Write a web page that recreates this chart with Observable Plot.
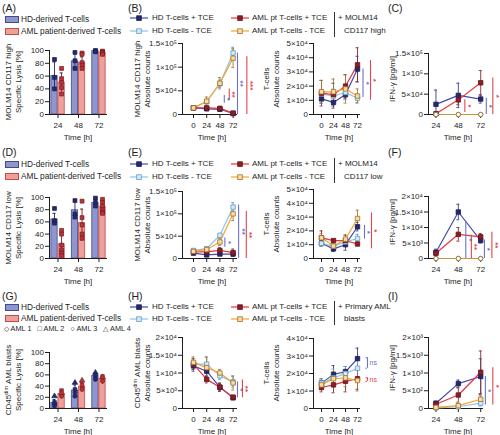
<!DOCTYPE html>
<html><head><meta charset="utf-8">
<script src="https://cdn.jsdelivr.net/npm/d3@7"></script>
<script src="https://cdn.jsdelivr.net/npm/@observablehq/plot@0.6"></script>
<style>
html,body{margin:0;padding:0;background:#fff;overflow:hidden;}
#fig{position:relative;width:500px;height:435px;overflow:hidden;font-family:'Liberation Sans',Arial,sans-serif;color:#1e1e1e;background:#fff;}
.t{position:absolute;white-space:nowrap;line-height:1;}
.t sup{font-size:70%;line-height:0;vertical-align:0.45em;}
</style></head><body><div id="fig"></div>
<script>
// ================= DATA =================
const lineTimes = [0, 24, 48, 72];
const ifnTimes = [24, 48, 72];
const barTimes = [24, 48, 72];
const lineSeries = ["HD T-cells + TCE", "HD T-cells - TCE", "AML pt T-cells + TCE", "AML pt T-cells - TCE"];
const barGroups = ["HD-derived T-cells", "AML patient-derived T-cells"];
const amlDonorLegend = "◇ AML 1 &nbsp;&nbsp;□ AML 2 &nbsp;&nbsp;○ AML 3 &nbsp;&nbsp;△ AML 4";
const panelLetters = ["(A)", "(B)", "(C)", "(D)", "(E)", "(F)", "(G)", "(H)", "(I)"];
const targetLabels = [["+ MOLM14", "CD117 high"], ["+ MOLM14", "CD117 low"], ["+ Primary AML", "blasts"]];

// tick values and labels
const lysisTicks = [0, 20, 40, 60, 80, 100];
const lysisLabels = ["0", "20", "40", "60", "80", "100"];
const t150k = [0, 50000, 100000, 150000];
const t150kL = ["0", "5×10⁴", "1×10⁵", "1.5×10⁵"];
const t50k = [0, 10000, 20000, 30000, 40000, 50000];
const t50kL = ["0", "1×10⁴", "2×10⁴", "3×10⁴", "4×10⁴", "5×10⁴"];
const t40k = [0, 10000, 20000, 30000, 40000];
const t40kL = ["0", "1×10⁴", "2×10⁴", "3×10⁴", "4×10⁴"];
const t20k = [0, 5000, 10000, 15000, 20000];
const t20kL = ["0", "5×10³", "1×10⁴", "1.5×10⁴", "2×10⁴"];
const t2k = [0, 500, 1000, 1500, 2000];
const t2kL = ["0", "5×10²", "1×10³", "1.5×10³", "2×10³"];

// (A) specific lysis, MOLM14 CD117 high
const aHdMean = [60, 83, 99];
const aHdSd = [22, 13, 1];
const aHdPts = [[86, 58, 40], [97, 84, 72], [100, 99, 98]];
const aAmlMean = [50, 81, 97];
const aAmlSd = [15, 9, 2];
const aAmlPts = [[72, 56, 50, 42, 32], [96, 94, 81, 77, 72], [99, 98, 97, 96, 94]];
// (D) specific lysis, MOLM14 CD117 low
const dHdMean = [64, 79, 91];
const dHdSd = [10, 14, 7];
const dHdPts = [[82, 62, 58], [95, 73, 68], [99, 92, 86]];
const dAmlMean = [23, 58, 85];
const dAmlSd = [17, 23, 8];
const dAmlPts = [[46, 40, 22, 14, 9, 5], [94, 67, 55, 40, 33], [97, 92, 86, 80, 76, 74]];
// (G) specific lysis, CD45dim AML blasts (AML 1..4)
const gHdMean = [10, 32, 58];
const gHdSd = [6, 10, 5];
const gHdPts = [[8, 11, 5, 22], [28, 34, 22, 46], [55, 60, 52, 64]];
const gAmlMean = [26, 39, 53];
const gAmlSd = [5, 7, 4];
const gAmlPts = [[24, 32, 22, 28], [37, 42, 34, 50], [50, 57, 49, 56]];

// (B) left: MOLM14 CD117 high absolute counts
const bL_hdTce = [14000, 12000, 11000, 2000];
const bL_hdNo = [14000, 27000, 65000, 130000];
const bL_amlTce = [14000, 14000, 13000, 3000];
const bL_amlNo = [14000, 28000, 66000, 119000];
const bL_err = [[2000, 3000, 3000, 1000], [2000, 5000, 8000, 12000], [2000, 3000, 4000, 1500], [2000, 9000, 12000, 20000]];
// (B) right: T-cells absolute counts
const bR_hdTce = [11000, 8500, 14000, 32000];
const bR_hdNo = [14500, 13000, 15500, 11500];
const bR_amlTce = [15000, 14000, 20000, 35000];
const bR_amlNo = [16000, 16000, 18000, 13000];
const bR_err = [[3000, 4000, 3000, 9000], [3000, 5000, 5000, 3000], [9000, 8000, 8000, 12000], [8000, 9000, 10000, 5000]];
// (C) IFN-gamma
const c_hdTce = [25000, 47000, 38000];
const c_hdNo = [0, 0, 0];
const c_amlTce = [2000, 36000, 78000];
const c_amlNo = [0, 0, 0];
const c_err = [[35000, 30000, 10000], [0, 0, 0], [2000, 12000, 30000], [0, 0, 0]];
// (E) left
const eL_hdTce = [12000, 8000, 10000, 10000];
const eL_hdNo = [18000, 22000, 52000, 115000];
const eL_amlTce = [15000, 15000, 18000, 13000];
const eL_amlNo = [16000, 20000, 37000, 100000];
const eL_err = [[2000, 2000, 3000, 4000], [3000, 3000, 3000, 10000], [3000, 3000, 6000, 8000], [3000, 3000, 8000, 15000]];
// (E) right
const eR_hdTce = [11000, 7000, 10000, 23000];
const eR_hdNo = [11000, 9000, 12000, 14500];
const eR_amlTce = [15000, 13000, 13000, 10500];
const eR_amlNo = [15000, 9000, 14000, 29000];
const eR_err = [[2000, 2000, 4000, 3000], [2000, 2000, 3000, 3000], [5000, 1000, 4000, 1000], [3000, 3000, 3000, 6000]];
// (F) IFN-gamma
const f_hdTce = [2000, 15000, 5800];
const f_hdNo = [0, 0, 0];
const f_amlTce = [1700, 7800, 7000];
const f_amlNo = [0, 0, 0];
const f_err = [[1000, 2500, 800], [0, 0, 0], [700, 2200, 1000], [0, 0, 0]];
// (H) left: CD45dim AML blasts absolute counts
const hL_hdTce = [12000, 10500, 6000, 3000];
const hL_hdNo = [12500, 12500, 9200, 7500];
const hL_amlTce = [12500, 8200, 6000, 3200];
const hL_amlNo = [13000, 11500, 10000, 7200];
const hL_err = [[1500, 1500, 1000, 500], [1500, 2000, 1000, 1500], [1500, 1000, 1200, 500], [1500, 3000, 1000, 2000]];
// (H) right
const hR_hdTce = [14500, 19500, 21000, 28500];
const hR_hdNo = [14500, 17500, 20000, 23000];
const hR_amlTce = [12000, 13500, 15500, 17000];
const hR_amlNo = [13500, 17000, 17500, 16000];
const hR_err = [[2500, 5000, 3000, 6000], [2500, 5000, 4000, 6000], [2500, 4500, 6000, 6000], [2500, 4000, 5000, 6000]];
// (I) IFN-gamma
const i_hdTce = [150, 700, 900];
const i_hdNo = [20, 50, 150];
const i_amlTce = [120, 380, 1020];
const i_amlNo = [30, 80, 260];
const i_err = [[50, 100, 500], [10, 30, 80], [50, 200, 600], [10, 40, 100]];

// significance annotations (x in hours, range in y units)
const sigB_L = {x: [56, 65, 80, 97], lo: [24000, 30000, 0, 0], hi: [40000, 54000, 130000, 122000], g: ["HD", "AML", "HD", "AML"], t: ["*", "**", "**", "***"]};
const sigB_R = {x: [83, 98], lo: [12000, 10000], hi: [32000, 38000], g: ["HD", "AML"], t: ["*", "*"]};
const sigC = {x: [55, 78, 85], lo: [5000, 0, 0], hi: [36000, 40000, 90000], g: ["AML", "HD", "AML"], t: ["*", "*", "*"]};
const sigE_L = {x: [57, 82, 96], lo: [25000, 0, 0], hi: [46000, 120000, 105000], g: ["HD", "HD", "AML"], t: ["*", "**", "**"]};
const sigE_R = {x: [86, 100], lo: [14000, 7000], hi: [24000, 33000], g: ["HD", "AML"], t: ["*", "*"]};
const sigF = {x: [56, 62, 76, 84], lo: [0, 0, 0, 0], hi: [12000, 7500, 6000, 8500], g: ["HD", "AML", "HD", "AML"], t: ["*", "**", "*", "**"]};
const sigH_L = {x: [80, 89], lo: [3000, 3000], hi: [7500, 8000], g: ["HD", "AML"], t: ["*", "**"]};
const sigH_R = {x: [92, 92], lo: [23000, 15500], hi: [29000, 17500], g: ["HD", "AML"], t: ["ns", "ns"]};
const sigI = {x: [77, 85], lo: [100, 100], hi: [900, 1150], g: ["HD", "AML"], t: ["*", "*"]};

// ================= STYLE / LAYOUT =================
const ink = "#1e1e1e";
const FONT = "'Liberation Sans', Arial, sans-serif";
const lineColor = ["#454bab", "#8fc3e6", "#e3373d", "#f5a52a"];
const markFill = ["#25286b", "#d4eaf7", "#8f1d25", "#f9dca8"];
const markStroke = ["#1b1d55", "#5d9dc8", "#6a1117", "#a46f21"];
const errColor = ["#3b3f80", "#6f9fc0", "#8a2a30", "#a47a3a"];
const barFill = ["#8f96cd", "#eea09b"];
const barStroke = ["#454a8e", "#c44a4d"];
const ptFill = ["#262a6d", "#b8343a"];
const ptStroke = ["#1a1d52", "#7a1a1f"];
const barErr = ["#23265e", "#6e1a1f"];
const sigColor = {HD: "#6a73cb", AML: "#e3454b"};

const col1 = {axisPx: 49, endPx: 107, xDomain: [14, 82], cap: 1.8, barW: 8.3};
const col2L = {axisPx: 182, endPx: 237, xDomain: [-20, 80], cap: 2.6};
const col2R = {axisPx: 313, endPx: 360, xDomain: [-16, 78], cap: 3};
const col3 = {axisPx: 428, endPx: 483, xDomain: [16, 75], cap: 1.6};
const rowBottom = [114, 258, 408];
const tops = {c1: [50, 197, 352], c2L: [43, 191, 337], c2R: [43, 189, 338], c3: [53, 196, 337]};

const fig = document.getElementById("fig");

function txt(html, x, y, o = {}) {
  const d = document.createElement("div");
  d.className = "t";
  d.innerHTML = html;
  d.style.fontSize = (o.size || 8) + "px";
  d.style.left = x + "px";
  d.style.top = y + "px";
  if (o.color) d.style.color = o.color;
  const ax = o.anchor === "middle" ? "-50%" : o.anchor === "end" ? "-100%" : "0%";
  d.style.transform = `translate(${ax},-50%)` + (o.rotate ? ` rotate(${o.rotate}deg)` : "");
  fig.appendChild(d);
}

function mount(svg) {
  svg.style.position = "absolute";
  svg.style.left = "0px";
  svg.style.top = "0px";
  fig.appendChild(svg);
}

function frameOpts(L, top, bottom, yMax) {
  return {
    width: 500, height: 435,
    marginLeft: L.axisPx, marginRight: 500 - L.endPx, marginTop: top, marginBottom: 435 - bottom,
    x: {type: "linear", domain: L.xDomain},
    y: {type: "linear", domain: [0, yMax]},
    color: {type: "identity"},
    style: {background: "transparent", fontFamily: FONT, fontSize: "8px", color: ink, overflow: "visible"}
  };
}

function axesMarks(L, yMax, yTicks, yLabels, xTicks) {
  const fmt = new Map(yTicks.map((v, i) => [v, yLabels[i]]));
  return [
    Plot.ruleX([L.xDomain[0]], {y1: 0, y2: yMax, stroke: ink, strokeWidth: 1}),
    Plot.ruleY([0], {x1: L.xDomain[0], x2: L.xDomain[1], stroke: ink, strokeWidth: 1}),
    Plot.axisY({ticks: yTicks, tickFormat: d => fmt.get(d), tickSize: 4, tickPadding: 1.5, label: null, fontSize: 8}),
    Plot.axisX({ticks: xTicks, tickFormat: d => String(d), tickSize: 4, tickPadding: 3.5, label: null, fontSize: 8})
  ];
}

function sigMarks(sig) {
  const rows = sig.x.map((x, i) => ({x, lo: sig.lo[i], hi: sig.hi[i], c: sigColor[sig.g[i]], t: sig.t[i]}));
  const stars = rows.filter(d => d.t !== "ns");
  const ns = rows.filter(d => d.t === "ns");
  return [
    Plot.ruleX(rows, {x: "x", y1: "lo", y2: "hi", stroke: "c", strokeWidth: 1.1}),
    Plot.ruleY(ns, {y: "lo", x1: d => d.x - 3, x2: "x", stroke: "c", strokeWidth: 1}),
    Plot.ruleY(ns, {y: "hi", x1: d => d.x - 3, x2: "x", stroke: "c", strokeWidth: 1}),
    Plot.text(stars, {x: "x", y: d => (d.lo + d.hi) / 2, text: "t", rotate: 90, dx: 3.5, fill: "c", fontSize: 8, fontWeight: "bold"}),
    Plot.text(ns, {x: "x", y: d => (d.lo + d.hi) / 2, text: "t", textAnchor: "start", dx: 2, fill: "c", fontSize: 7})
  ];
}

function linePanel(L, top, bottom, yMax, yTicks, yLabels, times, series, errs, sig, zeroCircles) {
  const rows = [];
  series.forEach((arr, s) => arr.forEach((v, i) => rows.push({t: times[i], v, e: errs[s][i], s})));
  const withErr = rows.filter(d => d.e > 0);
  const lowCaps = withErr.filter(d => d.v - d.e > 0);
  const circ = d => zeroCircles && (d.s === 1 || d.s === 3);
  const marks = [
    ...axesMarks(L, yMax, yTicks, yLabels, times),
    Plot.ruleX(withErr, {x: "t", y1: d => Math.max(0, d.v - d.e), y2: d => d.v + d.e, stroke: d => errColor[d.s], strokeWidth: 0.9}),
    Plot.ruleY(withErr, {y: d => d.v + d.e, x1: d => d.t - L.cap, x2: d => d.t + L.cap, stroke: d => errColor[d.s], strokeWidth: 0.9}),
    Plot.ruleY(lowCaps, {y: d => d.v - d.e, x1: d => d.t - L.cap, x2: d => d.t + L.cap, stroke: d => errColor[d.s], strokeWidth: 0.9}),
    Plot.line(rows, {x: "t", y: "v", z: "s", stroke: d => zeroCircles && d.s === 3 ? "#c9923a" : lineColor[d.s], strokeWidth: 1.2}),
    Plot.dot(rows.filter(d => !circ(d)), {x: "t", y: "v", symbol: "square", r: 2.5, fill: d => markFill[d.s], stroke: d => markStroke[d.s], strokeWidth: 0.8}),
    Plot.dot(rows.filter(d => circ(d)), {x: "t", y: "v", symbol: "circle", r: 2.2, fill: "white", stroke: d => d.s === 3 ? "#9a6a22" : markStroke[d.s], strokeWidth: 0.9}),
    ...sigMarks(sig)
  ];
  mount(Plot.plot({...frameOpts(L, top, bottom, yMax), marks}));
}

function barPanel(L, top, bottom, hdMean, hdSd, hdPts, amlMean, amlSd, amlPts, symbols) {
  const w = L.barW;
  const bars = [];
  barTimes.forEach((t, i) => {
    bars.push({t, g: 0, m: hdMean[i], sd: hdSd[i]});
    bars.push({t, g: 1, m: amlMean[i], sd: amlSd[i]});
  });
  const cx = d => d.g === 0 ? d.t - w / 2 : d.t + w / 2;
  const pts = [];
  barTimes.forEach((t, i) => {
    hdPts[i].forEach((v, k) => pts.push({t, g: 0, v, k}));
    amlPts[i].forEach((v, k) => pts.push({t, g: 1, v, k}));
  });
  const marks = [
    Plot.rect(bars, {x1: d => d.g === 0 ? d.t - w : d.t, x2: d => d.g === 0 ? d.t : d.t + w, y1: 0, y2: "m", fill: d => barFill[d.g], stroke: d => barStroke[d.g], strokeWidth: 0.8, insetLeft: 0.4, insetRight: 0.4}),
    ...axesMarks(L, 100, lysisTicks, lysisLabels, barTimes),
    Plot.ruleX(bars, {x: cx, y1: d => Math.max(0, d.m - d.sd), y2: d => d.m + d.sd, stroke: d => barErr[d.g], strokeWidth: 0.9}),
    Plot.ruleY(bars, {y: d => d.m + d.sd, x1: d => cx(d) - L.cap, x2: d => cx(d) + L.cap, stroke: d => barErr[d.g], strokeWidth: 0.9})
  ];
  if (symbols) {
    symbols.forEach((sym, k) => {
      marks.push(Plot.dot(pts.filter(d => d.k === k), {x: cx, y: "v", symbol: sym, r: 2.1, fill: d => ptFill[d.g], stroke: d => ptStroke[d.g], strokeWidth: 0.6}));
    });
  } else {
    marks.push(Plot.dot(pts, {x: cx, y: "v", symbol: "square", r: 2.2, fill: d => ptFill[d.g], stroke: d => ptStroke[d.g], strokeWidth: 0.7}));
  }
  mount(Plot.plot({...frameOpts(L, top, bottom, 100), marks}));
}

// ================= DRAW =================
barPanel(col1, tops.c1[0], rowBottom[0], aHdMean, aHdSd, aHdPts, aAmlMean, aAmlSd, aAmlPts, null);
barPanel(col1, tops.c1[1], rowBottom[1], dHdMean, dHdSd, dHdPts, dAmlMean, dAmlSd, dAmlPts, null);
barPanel(col1, tops.c1[2], rowBottom[2], gHdMean, gHdSd, gHdPts, gAmlMean, gAmlSd, gAmlPts, ["diamond", "square", "circle", "triangle"]);

linePanel(col2L, tops.c2L[0], rowBottom[0], 150000, t150k, t150kL, lineTimes, [bL_hdTce, bL_hdNo, bL_amlTce, bL_amlNo], bL_err, sigB_L, false);
linePanel(col2R, tops.c2R[0], rowBottom[0], 50000, t50k, t50kL, lineTimes, [bR_hdTce, bR_hdNo, bR_amlTce, bR_amlNo], bR_err, sigB_R, false);
linePanel(col3, tops.c3[0], rowBottom[0], 150000, t150k, t150kL, ifnTimes, [c_hdTce, c_hdNo, c_amlTce, c_amlNo], c_err, sigC, true);

linePanel(col2L, tops.c2L[1], rowBottom[1], 150000, t150k, t150kL, lineTimes, [eL_hdTce, eL_hdNo, eL_amlTce, eL_amlNo], eL_err, sigE_L, false);
linePanel(col2R, tops.c2R[1], rowBottom[1], 50000, t50k, t50kL, lineTimes, [eR_hdTce, eR_hdNo, eR_amlTce, eR_amlNo], eR_err, sigE_R, false);
linePanel(col3, tops.c3[1], rowBottom[1], 20000, t20k, t20kL, ifnTimes, [f_hdTce, f_hdNo, f_amlTce, f_amlNo], f_err, sigF, true);

linePanel(col2L, tops.c2L[2], rowBottom[2], 20000, t20k, t20kL, lineTimes, [hL_hdTce, hL_hdNo, hL_amlTce, hL_amlNo], hL_err, sigH_L, false);
linePanel(col2R, tops.c2R[2], rowBottom[2], 40000, t40k, t40kL, lineTimes, [hR_hdTce, hR_hdNo, hR_amlTce, hR_amlNo], hR_err, sigH_R, false);
linePanel(col3, tops.c3[2], rowBottom[2], 2000, t2k, t2kL, ifnTimes, [i_hdTce, i_hdNo, i_amlTce, i_amlNo], i_err, sigI, false);

// ================= TEXT / LEGENDS =================
const rowLetterY = [8, 152, 296];
const letterX = [2, 128, 388];
panelLetters.forEach((p, i) => txt(p, letterX[i % 3], rowLetterY[Math.floor(i / 3)], {size: 10.5}));

const barLegY = [[19, 31], [164, 176], [307, 318]];
barLegY.forEach(ys => {
  barGroups.forEach((g, k) => {
    const sw = document.createElement("div");
    sw.style.cssText = `position:absolute;left:5px;top:${ys[k] - 3}px;width:12px;height:5px;background:${barFill[k]};border:1px solid ${barStroke[k]};`;
    fig.appendChild(sw);
    txt(g, 21, ys[k], {size: 8.3});
  });
});
txt(amlDonorLegend, 4, 329, {size: 7.3});

const lineLegY = [[18, 31], [164, 177], [307, 319]];
lineLegY.forEach((ys, r) => {
  lineSeries.forEach((s, k) => {
    const col = k < 2 ? 0 : 1;
    const row = k % 2;
    const sx = col === 0 ? 130 : 231;
    const y = ys[row];
    fig.insertAdjacentHTML("beforeend",
      `<svg width="18" height="8" style="position:absolute;left:${sx}px;top:${y - 4}px;overflow:visible"><line x1="0" y1="4" x2="18" y2="4" stroke="${lineColor[k]}" stroke-width="1.2"/><rect x="6.7" y="1.8" width="4.6" height="4.6" fill="${markFill[k]}" stroke="${markStroke[k]}" stroke-width="0.8"/></svg>`);
    txt(s, col === 0 ? 152 : 252, y, {size: 8});
  });
  const sep = document.createElement("div");
  sep.style.cssText = `position:absolute;left:334px;top:${ys[0] - 6}px;width:0.8px;height:${ys[1] - ys[0] + 12}px;background:#333;`;
  fig.appendChild(sep);
  txt(targetLabels[r][0], 338, ys[0], {size: 8});
  txt(targetLabels[r][1], 344, ys[1], {size: 8});
});

const c1Titles = [["MOLM14 CD117 high", "Specific Lysis [%]"], ["MOLM14 CD117 low", "Specific Lysis [%]"], ["CD45<sup>dim</sup> AML blasts", "Specific Lysis [%]"]];
const c2LTitles = [["MOLM14 CD117 high", "Absolute counts"], ["MOLM14 CD117 low", "Absolute counts"], ["CD45<sup>dim</sup> AML blasts", "Absolute counts"]];
const c2RTitles = ["T-cells", "Absolute counts"];
const ifnTitle = "IFN-γ [pg/ml]";
for (let r = 0; r < 3; r++) {
  const b = rowBottom[r];
  let m = (tops.c1[r] + b) / 2;
  txt(c1Titles[r][0], 9, m, {anchor: "middle", rotate: -90});
  txt(c1Titles[r][1], 19, m, {anchor: "middle", rotate: -90});
  m = (tops.c2L[r] + b) / 2;
  txt(c2LTitles[r][0], 138, m, {anchor: "middle", rotate: -90});
  txt(c2LTitles[r][1], 148, m, {anchor: "middle", rotate: -90});
  m = (tops.c2R[r] + b) / 2;
  txt(c2RTitles[0], 267, m, {anchor: "middle", rotate: -90});
  txt(c2RTitles[1], 277, m, {anchor: "middle", rotate: -90});
  m = (tops.c3[r] + b) / 2 - 5;
  txt(ifnTitle, 393, m, {anchor: "middle", rotate: -90});
  [78, 212, 339, 458].forEach(x => txt("Time [h]", x, b + 24, {anchor: "middle"}));
}
</script></body></html>
